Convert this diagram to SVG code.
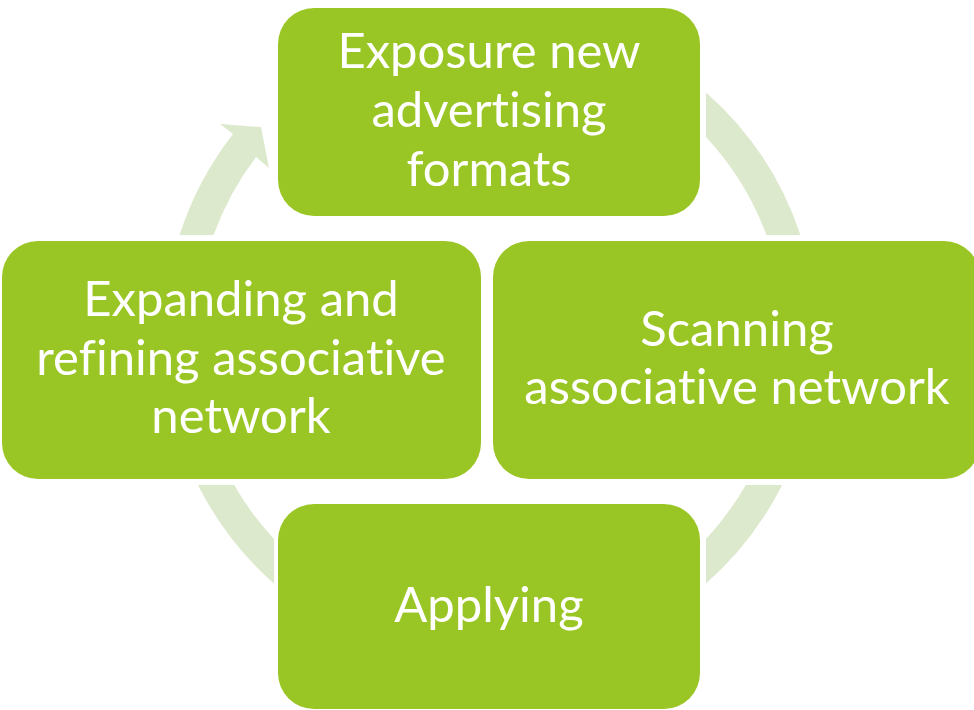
<svg xmlns="http://www.w3.org/2000/svg" width="974" height="710" viewBox="0 0 974 710">
  <style>
    .ring { fill: #dde9cc; }
    .box { fill: #9ac625; }
    .label { fill: #ffffff; font-family: Lato, "Open Sans", sans-serif; font-size: 49px; text-anchor: middle; font-variant-ligatures: none; font-feature-settings: "liga" 0, "dlig" 0; }
  </style>
  <rect width="974" height="710" fill="#ffffff"/>

  <!-- cycle ring segments (centre 490,338; inner r 295, outer r 327) -->
  <g id="connectors">
    <path class="ring" d="M179.6 235 A327 327 0 0 1 233 134 L220 124 L261 127 L269 168 L256 157 A295 295 0 0 0 213.6 235 Z"/>
    <path class="ring" d="M706 92.5 A327 327 0 0 1 800.4 235 L766.4 235 A295 295 0 0 0 706 137.1 Z"/>
    <path class="ring" d="M782.1 485 A327 327 0 0 1 706 583.5 L706 538.9 A295 295 0 0 0 745.8 485 Z"/>
    <path class="ring" d="M274 583.5 A327 327 0 0 1 197.9 485 L234.2 485 A295 295 0 0 0 274 538.9 Z"/>
  </g>

  <g id="node-exposure">
    <rect class="box" x="278" y="8" width="422" height="208" rx="36"/>
    <text class="label" x="489" y="68">Exposure new</text>
    <text class="label" x="489" y="127">advertising</text>
    <text class="label" x="489" y="186">formats</text>
  </g>

  <g id="node-expanding">
    <rect class="box" x="2" y="241" width="479" height="238" rx="36"/>
    <text class="label" x="241" y="316">Expanding and</text>
    <text class="label" x="241" y="375">refining associative</text>
    <text class="label" x="241" y="433">network</text>
  </g>

  <g id="node-scanning">
    <rect class="box" x="493" y="241" width="487" height="238" rx="36"/>
    <text class="label" x="737" y="346">Scanning</text>
    <text class="label" x="737" y="404">associative network</text>
  </g>

  <g id="node-applying">
    <rect class="box" x="278" y="504" width="422" height="205" rx="36"/>
    <text class="label" x="489" y="622">Applying</text>
  </g>
</svg>
